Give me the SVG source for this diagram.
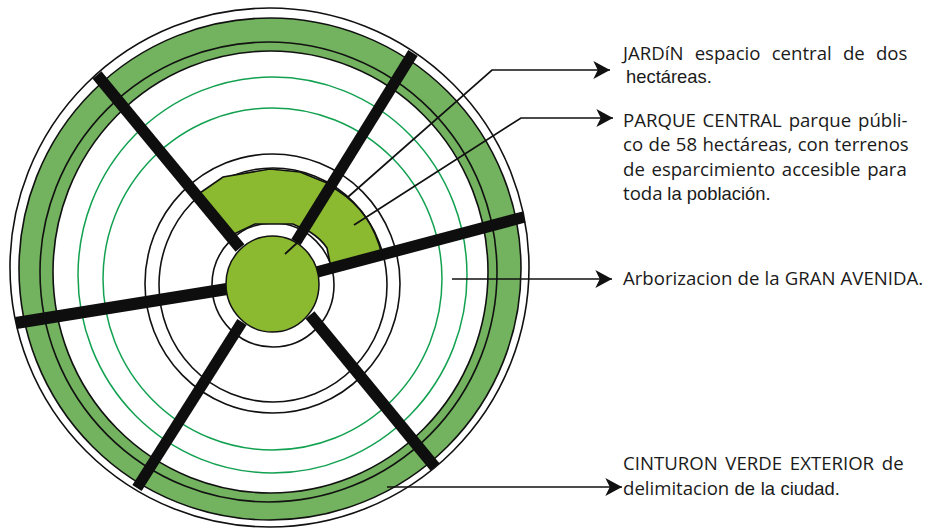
<svg xmlns="http://www.w3.org/2000/svg" width="928" height="528" viewBox="0 0 928 528">
<style>
.k{fill:none;stroke:#111;stroke-width:1.6}
.g{fill:none;stroke:#12a150;stroke-width:1.5}
.s{stroke:#0e0e0e;fill:none}
.c{fill:none;stroke:#111;stroke-width:1.7}
text{font-family:"Open Sans","Noto Sans",sans-serif;font-size:18.6px;fill:#1a1a1a}
.a{font-family:"Liberation Sans",Arial,sans-serif;font-size:18.4px}
</style>
<defs>
<marker id="arrow" markerUnits="userSpaceOnUse" markerWidth="20" markerHeight="20" viewBox="-1 -9 18 18" refX="15" refY="0" orient="auto"><path d="M0,-8L15,0L0,8L4,0Z" fill="#111"/></marker>
</defs>
<rect width="928" height="528" fill="#fff"/>
<g id="rings">
<ellipse class="k" cx="269.500" cy="267.500" rx="259.500" ry="259.500"/>
<ellipse cx="270" cy="269" rx="251" ry="251" fill="#73b35f" stroke="#111" stroke-width="1.6"/>
<ellipse class="k" cx="268.500" cy="272" rx="228.500" ry="230"/>
<ellipse cx="270.500" cy="272" rx="217.500" ry="221" fill="#fff" stroke="#111" stroke-width="1.6"/>
<ellipse class="g" cx="272.500" cy="275" rx="194.500" ry="198"/>
<ellipse class="g" cx="272.500" cy="279" rx="169.500" ry="171"/>
<ellipse class="k" cx="272.500" cy="283.500" rx="127.500" ry="129.500"/>
<ellipse class="k" cx="273" cy="285" rx="114" ry="117"/>
<ellipse class="k" cx="273" cy="285" rx="61" ry="62"/>
</g>
<g id="parque-central">
<path d="M197,195L223,177L270,169L300,172L327,183L337,190Q372,212 382,255L331,268L327,248Q321,239 310,232L293,224L255,224L232,235Z" fill="#8bb92f" stroke="#111" stroke-width="1.6"/>
</g>
<g id="avenidas" class="s">
<path d="M97,75L240,248" stroke-width="11.500"/>
<path d="M413,53L296,242" stroke-width="11"/>
<path d="M524,217L317,272" stroke-width="11.500"/>
<path d="M16,323L227,289" stroke-width="12"/>
<path d="M137,488L242,322" stroke-width="11"/>
<path d="M435,467L310,315" stroke-width="11.500"/>
</g>
<g id="jardin">
<ellipse cx="272.500" cy="284" rx="46.500" ry="48" fill="#8bb92f" stroke="#111" stroke-width="1.5"/>
</g>
<g id="connectors">
<path class="c" d="M285,254L297,243"/>
<path class="c" d="M348,197L492,70H610" marker-end="url(#arrow)"/>
<path class="c" d="M354,225L521,118H613" marker-end="url(#arrow)"/>
<path class="c" d="M452,279H612" marker-end="url(#arrow)"/>
<path class="c" d="M387,487H622" marker-end="url(#arrow)"/>
</g>
<g id="label-jardin">
<text x="623" y="60" word-spacing="6.400">JARDíN espacio central de dos</text>
<text class="a" x="626" y="83">hectáreas.</text>
</g>
<g id="label-parque">
<text x="623" y="127" word-spacing="2">PARQUE CENTRAL parque públi-</text>
<text x="623" y="151" word-spacing="0.600">co de 58 hectáreas, con terrenos</text>
<text x="623" y="176" word-spacing="1.800">de esparcimiento accesible para</text>
<text x="623" y="200">toda <tspan class="a">la población.</tspan></text>
</g>
<g id="label-arborizacion">
<text x="623" y="285" word-spacing="0.300">Arborizacion de la GRAN AVENIDA.</text>
</g>
<g id="label-cinturon">
<text x="623" y="470" word-spacing="2.900">CINTURON VERDE EXTERIOR de</text>
<text x="623" y="495" word-spacing="0.500">delimitacion <tspan class="a">de la ciudad.</tspan></text>
</g>
</svg>
